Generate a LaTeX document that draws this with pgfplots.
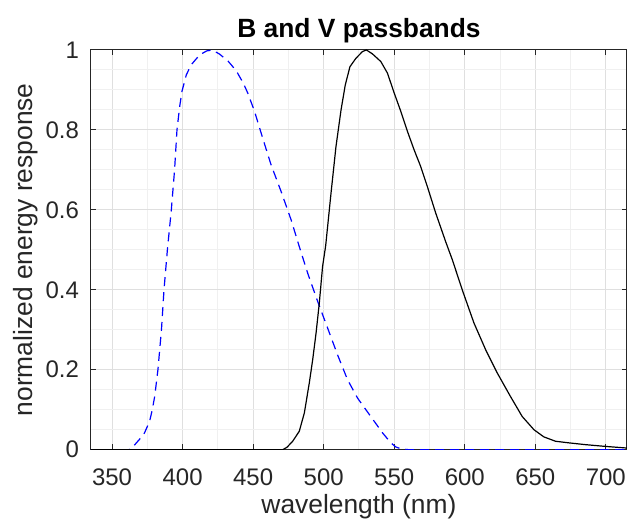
\documentclass[border=0pt]{standalone}
\usepackage{fontspec}
\setmainfont{Liberation Sans}
\usepackage{pgfplots}
\pgfplotsset{compat=1.18}

\definecolor{axgray}{RGB}{38,38,38}
\definecolor{gridmaj}{RGB}{223,223,223}
\definecolor{gridmin}{RGB}{240,240,240}

\begin{document}
\begin{tikzpicture}
\begin{axis}[
  name=ax,
  scale only axis,
  width=268.25pt, height=200pt,
  xmin=335, xmax=715,
  ymin=0, ymax=1,
  xtick={350,400,450,500,550,600,650,700},
  ytick={0,0.2,0.4,0.6,0.8,1},
  minor x tick num=1,
  minor y tick num=3,
  grid=both,
  major grid style={draw=gridmaj, line width=0.5pt},
  minor grid style={draw=gridmin, line width=0.5pt},
  major tick length=2.7pt,
  minor tick length=0pt,
  tick style={draw=axgray, line width=0.5pt},
  axis line style={draw=axgray, line width=0.5pt},
  /pgf/number format/assume math mode=true,
  tick label style={text=axgray, font=\fontsize{12}{14.4}\selectfont},
  xticklabel style={anchor=base, yshift=-18pt},
  yticklabel style={anchor=east, xshift=-2.5pt},
  title={B and V passbands},
  title style={at={(axis description cs:0.5,1)}, anchor=base,
    font=\fontsize{13.2}{15.8}\selectfont\bfseries},
  xlabel={wavelength (nm)},
  xlabel style={at={(axis description cs:0.5,0)}, anchor=base, yshift=-32pt,
    text=axgray, font=\fontsize{13.2}{15.8}\selectfont},
  ylabel={normalized energy response},
  ylabel style={at={(axis description cs:-0.1087,0.5)}, anchor=base,
    text=axgray, font=\fontsize{13.2}{15.8}\selectfont},
]

% B passband
\addplot[color=blue, line width=0.6pt, dash pattern=on 4.5pt off 3pt] coordinates {
  (335,0)(362,0)(366,0.012)(370,0.028)(373,0.042)(376.6,0.071)(378.5,0.1)
  (380.2,0.133)(382.5,0.2)(385,0.3)(386.8,0.4)(389.2,0.5)(392,0.6)(394.3,0.7)
  (396,0.8)(397.9,0.858)(399.5,0.896)(402.6,0.9375)(406,0.9625)(412,0.9875)
  (417,0.9975)(421,1.0)(426,0.99)(432,0.973)(438,0.948)(443,0.917)(446.2,0.892)
  (451,0.846)(456.8,0.779)(462.7,0.7125)(469.8,0.646)(476.9,0.575)(482.7,0.508)
  (488.6,0.442)(495.7,0.371)(502.8,0.304)(509.8,0.2375)(516.9,0.175)(524,0.129)
  (529.9,0.1)(535.8,0.071)(541.7,0.042)(547.6,0.017)(551,0.007)(554.7,0.002)
  (560,0)(715,0)
};

% V passband
\addplot[color=black, line width=0.6pt] coordinates {
  (335,0)(471,0)(474,0.006)(478,0.021)(482.7,0.046)(486.3,0.092)(489.8,0.167)
  (492.2,0.225)(494.6,0.292)(496.9,0.367)(499.2,0.458)(501.4,0.51)(505.2,0.642)
  (508.7,0.758)(512.3,0.85)(515.3,0.9125)(518.6,0.958)(522.8,0.979)(527.5,0.996)
  (530.3,1.0)(534.6,0.99)(540.5,0.971)(545.2,0.942)(550,0.892)(554.7,0.846)
  (559.4,0.796)(564.1,0.75)(568.8,0.708)(573.5,0.658)(579.4,0.592)(586.5,0.52)
  (591.2,0.475)(598.2,0.4)(606.5,0.317)(614.8,0.25)(623,0.192)(632.4,0.133)
  (640.7,0.083)(649,0.05)(656,0.032)(664.3,0.021)(673.7,0.017)(685.5,0.0125)
  (700,0.008)(715,0.004)
};

\end{axis}
\pgfresetboundingbox
\path ([shift={(-45.5pt,-37.5pt)}]ax.south west) rectangle ([shift={(0pt,25pt)}]ax.north east);
\end{tikzpicture}
\end{document}
